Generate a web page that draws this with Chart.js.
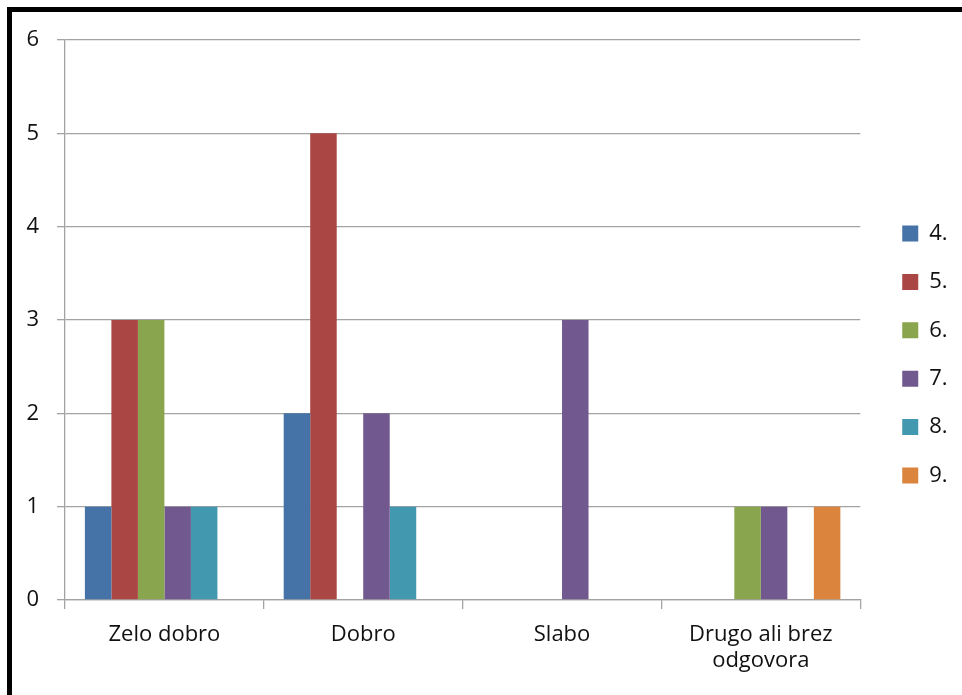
<!DOCTYPE html>
<html lang="sl">
<head>
<meta charset="utf-8">
<title>Ocene po razredih</title>
<script src="https://cdn.jsdelivr.net/npm/chart.js@4.4.1/dist/chart.umd.min.js"></script>
<style>
    html, body {
        margin: 0;
        padding: 0;
        background: #fff;
    }
    .wrap {
        position: relative;
        width: 962px;
        height: 695px;
        overflow: hidden;
    }
    /* okvir slike */
    .okvir {
        position: absolute;
        left: 7px;
        top: 7px;
        right: -10px;
        bottom: -10px;
        border-top: 5px solid #000;
        border-left: 5px solid #000;
        pointer-events: none;
    }
</style>
</head>
<body>
<div class="wrap">
    <canvas id="ocene" width="962" height="695"></canvas>
    <div class="okvir"></div>
</div>
<script>
// kategorije in vrednosti po razredih
const kategorije = ['Zelo dobro', 'Dobro', 'Slabo', ['Drugo ali brez', 'odgovora']];
const razredi = ['4.', '5.', '6.', '7.', '8.', '9.'];
const razred4 = [1, 2, 0, 0];
const razred5 = [3, 5, 0, 0];
const razred6 = [3, 0, 0, 1];
const razred7 = [1, 2, 3, 1];
const razred8 = [1, 1, 0, 0];
const razred9 = [0, 0, 0, 1];
const yTicks = [0, 1, 2, 3, 4, 5, 6];

const barve = ['#4572A7', '#AA4643', '#89A54E', '#71588F', '#4198AF', '#DB843D'];
const vrednosti = [razred4, razred5, razred6, razred7, razred8, razred9];

const pisava = "'Open Sans', Lato, sans-serif";
const mreza = '#a3a3a3';

// legendo premaknemo malo desno in gor, kot je v izvirniku
const legendaZamik = {
    id: 'legendaZamik',
    afterLayout(chart) {
        const lg = chart.legend;
        const pad = lg.options.labels.padding;
        const dx = chart.chartArea.right + 42 - (lg.left + pad);
        const dy = -13;
        lg.left += dx;
        lg.right += dx;
        lg.top += dy;
        lg.bottom += dy;
    }
};

const ctx = document.getElementById('ocene').getContext('2d');
new Chart(ctx, {
    type: 'bar',
    data: {
        labels: kategorije,
        datasets: razredi.map((r, i) => ({
            label: r,
            data: vrednosti[i],
            backgroundColor: barve[i],
            borderWidth: 0,
            categoryPercentage: 0.8,
            barPercentage: 1.0
        }))
    },
    options: {
        responsive: false,
        animation: false,
        layout: {
            padding: { top: 40, right: 20, bottom: 0, left: 0 }
        },
        plugins: {
            tooltip: { enabled: false },
            legend: {
                position: 'right',
                labels: {
                    boxWidth: 16,
                    boxHeight: 16,
                    padding: 26.4,
                    color: '#111',
                    font: { family: pisava, size: 22 }
                }
            }
        },
        scales: {
            x: {
                grid: {
                    display: true,
                    drawOnChartArea: false,
                    drawTicks: true,
                    tickLength: 9,
                    color: mreza,
                    lineWidth: 1.3
                },
                border: { color: mreza, width: 1.3 },
                ticks: {
                    color: '#111',
                    padding: 13,
                    maxRotation: 0,
                    autoSkip: false,
                    font: { family: pisava, size: 22, lineHeight: 1.16 }
                },
                afterFit(scale) {
                    scale.height = 95;
                }
            },
            y: {
                min: 0,
                max: 6,
                afterBuildTicks(scale) {
                    scale.ticks = yTicks.map(v => ({ value: v }));
                },
                grid: {
                    color: mreza,
                    lineWidth: 1.3,
                    tickLength: 8
                },
                border: { color: mreza, width: 1.3 },
                ticks: {
                    color: '#111',
                    padding: 18,
                    font: { family: pisava, size: 22 }
                },
                afterFit(scale) {
                    scale.width = 65;
                }
            }
        }
    },
    plugins: [legendaZamik]
});
</script>
</body>
</html>
